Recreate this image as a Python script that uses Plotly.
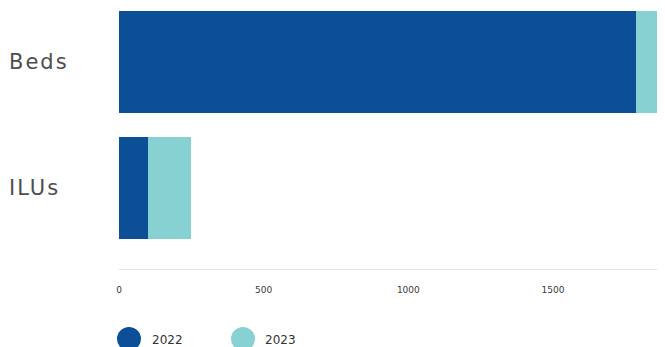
import plotly.graph_objects as go

categories = ["Beds", "ILUs"]
series_names = ["2022", "2023"]
values_2022 = [1787, 100]
values_2023 = [120, 150]
x_tick_values = [0, 500, 1000, 1500]
x_tick_labels = ["0", "500", "1000", "1500"]

colors = {"2022": "#0c4f96", "2023": "#87d1d3"}
FONT = "DejaVu Sans"

fig = go.Figure()
for name, vals in zip(series_names, [values_2022, values_2023]):
    fig.add_trace(go.Bar(
        y=categories, x=vals, name=name, orientation="h",
        marker=dict(color=colors[name], line=dict(width=0)),
        showlegend=False, width=0.81,
    ))

fig.update_layout(
    barmode="stack",
    width=657, height=339,
    margin=dict(l=111, r=0, t=0, b=78),
    plot_bgcolor="white", paper_bgcolor="white",
    font=dict(family=FONT, color="#444"),
    bargap=0.19,
)
fig.update_xaxes(
    range=[0, 1887], tickvals=x_tick_values, ticktext=x_tick_labels,
    showgrid=False, zeroline=False, showline=True, linecolor="#dde3e8", linewidth=1,
    ticks="", tickfont=dict(size=9, color="#3a3a3a", family=FONT), ticklabelstandoff=12,
)
fig.update_yaxes(
    categoryorder="array", categoryarray=categories[::-1],
    range=[-0.643, 1.4286], showticklabels=False, showgrid=False, zeroline=False,
)

# category labels, left aligned
for cat in categories:
    fig.add_annotation(
        x=0, xref="paper", y=cat, yref="y", xanchor="left", yanchor="middle",
        xshift=-112, text='<span style="letter-spacing:2px">' + cat + '</span>',
        showarrow=False,
        font=dict(size=21, color="#4d4d4d", family=FONT),
    )

# custom legend with large circles
legend_offsets = [(-2, 31), (112, 144)]
for name, (cx, tx) in zip(series_names, legend_offsets):
    fig.add_shape(
        type="circle", xref="paper", yref="paper", xsizemode="pixel", ysizemode="pixel",
        xanchor=0, yanchor=0, x0=cx, x1=cx + 24, y0=-58, y1=-82,
        fillcolor=colors[name], line=dict(width=0),
    )
    fig.add_annotation(
        x=0, xref="paper", y=0, yref="paper", xanchor="left", yanchor="middle",
        xshift=tx, yshift=-71, text=name, showarrow=False,
        font=dict(size=12, color="#333", family=FONT),
    )

fig.write_html("out.html")
